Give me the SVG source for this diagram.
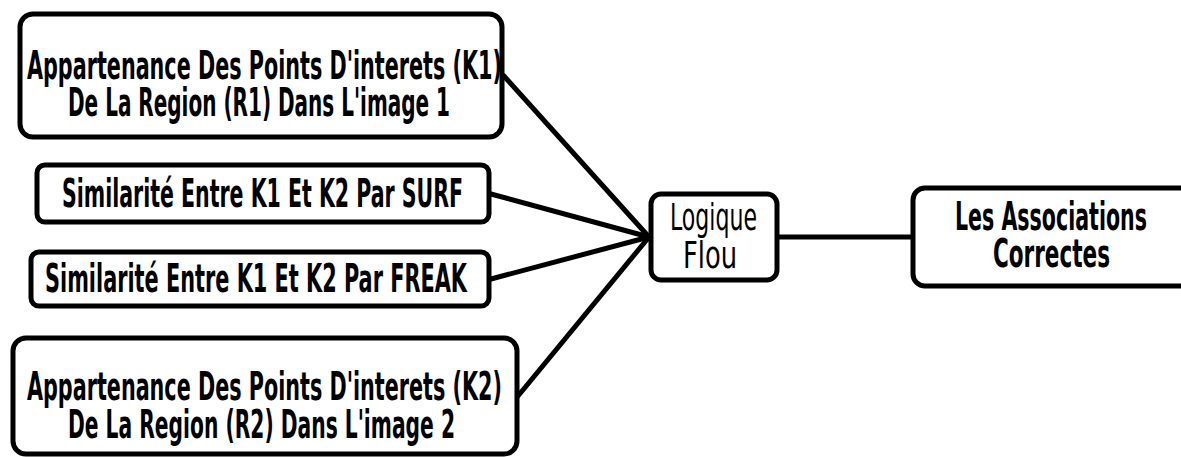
<svg xmlns="http://www.w3.org/2000/svg" width="1181" height="457" viewBox="0 0 1181 457">
<style>
.box{fill:#fff;stroke:#000;stroke-width:5}
.edge{stroke:#000;stroke-width:5;fill:none;stroke-linecap:round}
.b{font-family:"DejaVu Sans Condensed","Liberation Sans Narrow","Liberation Sans",sans-serif;font-weight:bold;font-size:39px;fill:#000}
.l{font-family:"Liberation Sans Narrow","DejaVu Sans Condensed","Liberation Sans",sans-serif;font-weight:normal;font-size:38px;fill:#000}
</style>
<rect width="1181" height="457" fill="#fff"/>
<g id="connectors">
<line class="edge" x1="504" y1="76" x2="649" y2="237"/>
<line class="edge" x1="491" y1="194" x2="649" y2="237"/>
<line class="edge" x1="491" y1="279" x2="649" y2="237"/>
<line class="edge" x1="518" y1="396" x2="649" y2="237"/>
<line class="edge" x1="777" y1="237" x2="913" y2="237"/>
</g>
<g id="node-k1">
<rect class="box" x="20" y="14" width="482" height="123" rx="13"/>
<text class="b" x="27" y="79" textLength="475" lengthAdjust="spacingAndGlyphs">Appartenance Des Points D'interets (K1)</text>
<text class="b" x="68" y="116" textLength="382" lengthAdjust="spacingAndGlyphs">De La Region (R1) Dans L'image 1</text>
</g>
<g id="node-surf">
<rect class="box" x="37" y="165" width="452" height="57" rx="8"/>
<text class="b" x="62" y="207" textLength="401" lengthAdjust="spacingAndGlyphs">Similarité Entre K1 Et K2 Par SURF</text>
</g>
<g id="node-freak">
<rect class="box" x="31" y="252" width="458" height="54" rx="8"/>
<text class="b" x="45" y="292" textLength="422" lengthAdjust="spacingAndGlyphs">Similarité Entre K1 Et K2 Par FREAK</text>
</g>
<g id="node-k2">
<rect class="box" x="13" y="338" width="504" height="116" rx="13"/>
<text class="b" x="27" y="400" textLength="475" lengthAdjust="spacingAndGlyphs">Appartenance Des Points D'interets (K2)</text>
<text class="b" x="68" y="438" textLength="387" lengthAdjust="spacingAndGlyphs">De La Region (R2) Dans L'image 2</text>
</g>
<g id="node-logique">
<rect class="box" x="651" y="194" width="126" height="86" rx="10"/>
<text class="l" x="670" y="230" textLength="87" lengthAdjust="spacingAndGlyphs">Logique</text>
<text class="l" x="683" y="268" textLength="54" lengthAdjust="spacingAndGlyphs">Flou</text>
</g>
<g id="node-associations">
<rect class="box" x="913" y="188" width="290" height="98" rx="12"/>
<text class="b" x="955" y="230" textLength="192" lengthAdjust="spacingAndGlyphs">Les Associations</text>
<text class="b" x="993" y="267" textLength="117" lengthAdjust="spacingAndGlyphs">Correctes</text>
</g>
</svg>
